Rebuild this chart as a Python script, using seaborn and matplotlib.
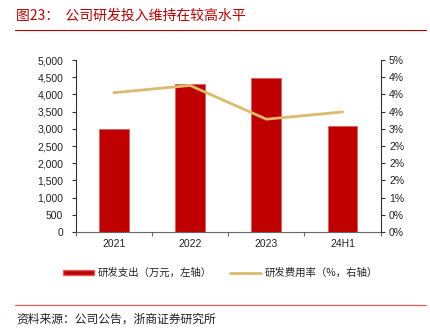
import matplotlib
matplotlib.use("Agg")
import matplotlib.pyplot as plt
import seaborn as sns
import numpy as np
import pandas as pd
from matplotlib.patches import Patch
from matplotlib.lines import Line2D
from matplotlib.ticker import FuncFormatter, MultipleLocator, FixedLocator

categories = ["2021", "2022", "2023", "24H1"]
rd_spend = [3000, 4300, 4475, 3090]
rd_rate = [4.05, 4.26, 3.28, 3.49]
left_ticks = [0, 500, 1000, 1500, 2000, 2500, 3000, 3500, 4000, 4500, 5000]
bar_label = "研发支出（万元，左轴）"
line_label = "研发费用率（%，右轴）"
title = "图23：  公司研发投入维持在较高水平"
source = "资料来源：公司公告，浙商证券研究所"

sns.set_theme(style="white")
plt.rcParams['font.family'] = ['Liberation Sans', 'Noto Sans CJK SC', 'DejaVu Sans']

BAR_C = "#C00000"
LINE_C = "#DDBA6C"
RED = "#C00000"
CJK = ["Noto Sans CJK SC", "DejaVu Sans"]

fig = plt.figure(figsize=(4.31, 3.33), dpi=100)
ax = fig.add_axes([0.1756, 0.3033, 0.7077, 0.5165])

df = pd.DataFrame({"cat": categories, "val": rd_spend})
sns.barplot(data=df, x="cat", y="val", color=BAR_C, width=0.39, ax=ax,
            saturation=1, edgecolor="#E06060", linewidth=0.6)
ax.set_xlim(-0.5, len(categories) - 0.5)
ax.set_ylim(0, 5000)
ax.yaxis.set_major_locator(FixedLocator(left_ticks))
ax.yaxis.set_major_formatter(FuncFormatter(lambda v, p: f"{int(v):,}"))
ax.set_xlabel("")
ax.set_ylabel("")

ax2 = ax.twinx()
sns.lineplot(x=np.arange(len(categories)), y=rd_rate, color=LINE_C, linewidth=2, ax=ax2)
ax2.set_ylim(0, 5)
ax2.yaxis.set_major_locator(MultipleLocator(0.5))
ax2.yaxis.set_major_formatter(FuncFormatter(lambda v, p: f"{v:.0f}%"))
ax2.set_ylabel("")

ax.spines["top"].set_visible(False)
ax2.spines["top"].set_visible(False)
ax.spines["right"].set_visible(False)
ax2.spines["left"].set_visible(False)
ax2.spines["bottom"].set_visible(False)
ax.spines["left"].set_color("#333333")
ax.spines["left"].set_linewidth(0.8)
ax.spines["bottom"].set_color("#666666")
ax.spines["bottom"].set_linewidth(0.8)
ax2.spines["right"].set_color("#333333")
ax2.spines["right"].set_linewidth(0.8)

ax.tick_params(axis="y", which="major", direction="out", length=3, width=0.8,
               color="#333333", labelsize=7.5, labelcolor="#222222", left=True, pad=6)
ax2.tick_params(axis="y", which="major", direction="out", length=3, width=0.8,
                color="#333333", labelsize=7.5, labelcolor="#222222", right=True, pad=3)
ax.set_xticks(range(len(categories)))
ax.set_xticklabels(categories)
ax.tick_params(axis="x", which="major", length=0, labelsize=7.5, labelcolor="#222222", pad=5)
ax.set_xticks(np.arange(len(categories) + 1) - 0.5, minor=True)
ax.tick_params(axis="x", which="minor", direction="out", length=3, width=0.8, color="#666666", bottom=True)

handles = [Patch(facecolor=BAR_C, edgecolor="#E06060", label=bar_label),
           Line2D([0], [0], color=LINE_C, linewidth=2, label=line_label)]
fig.legend(handles=handles, loc="center", bbox_to_anchor=(0.512, 0.18), ncol=2,
           frameon=False, handlelength=3.0, handleheight=0.45,
           columnspacing=1.7, handletextpad=0.35,
           prop={"family": CJK, "size": 7.5})

fig.text(0.037, 0.953, title, color=RED, fontsize=10, va="center", ha="left", family=CJK)
fig.add_artist(Line2D([0.035, 0.988], [0.91, 0.91], color=RED, linewidth=0.8))
fig.add_artist(Line2D([0.035, 0.988], [0.084, 0.084], color="#E06060", linewidth=0.9))
fig.text(0.037, 0.042, source, color="#222222", fontsize=8.5, va="center", ha="left", family=CJK)

fig.savefig("out.png", dpi=100)
